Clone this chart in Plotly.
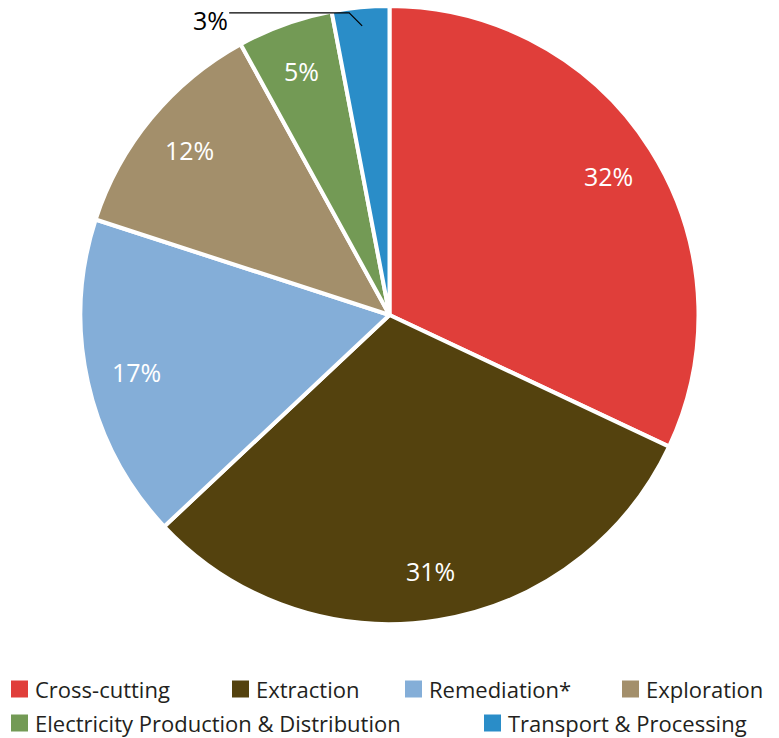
import math
import plotly.graph_objects as go

categories = ["Cross-cutting", "Extraction", "Remediation*", "Exploration",
              "Electricity Production & Distribution", "Transport & Processing"]
shares = [32, 31, 17, 12, 5, 3]
colors = ["#E03E3A", "#54420E", "#84AED8", "#A38F6B", "#739A55", "#2A8DC8"]

W, H = 779, 738
M_T, M_B = 6, 114
plot_h = H - M_T - M_B
plot_w = W
radius = min(plot_w, plot_h) / 2
FONT = "Open Sans"
TEXT_DARK = "#231F20"

labels_txt = [f"{v}%" for v in shares]

fig = go.Figure(go.Pie(
    labels=categories,
    values=shares,
    textinfo="none",
    marker=dict(colors=colors, line=dict(color="white", width=4)),
    sort=False,
    direction="clockwise",
    rotation=0,
    automargin=False,
    showlegend=False,
))


def to_paper(dx_px, dy_px):
    """Offset from the pie centre (pixels, y up) -> paper coordinates."""
    return 0.5 + dx_px / plot_w, 0.5 + dy_px / plot_h


def px_to_paper_y(py):
    return (H - M_B - py) / plot_h


# percentage labels placed along each slice's mid-angle
total = sum(shares)
cum = 0
mids = []
for v in shares:
    mids.append(2 * math.pi * (cum + v / 2) / total)
    cum += v

for txt, th in zip(labels_txt[:-1], mids[:-1]):
    x, y = to_paper(radius * 0.84 * math.sin(th), radius * 0.84 * math.cos(th))
    fig.add_annotation(x=x, y=y, xref="paper", yref="paper", text=txt,
                       showarrow=False, xanchor="center", yanchor="middle",
                       font=dict(size=25, color="white", family=FONT))

# call-out for the smallest slice
th = mids[-1]
ex, ey = radius * 0.94 * math.sin(th), radius * 0.94 * math.cos(th)
end_x, end_y = to_paper(ex, ey)
elb_x, elb_y = to_paper(ex - 13, ey + 13)
left_x = elb_x - 120 / plot_w

fig.add_shape(type="path",
              path=f"M {left_x} {elb_y} L {elb_x} {elb_y} L {end_x} {end_y}",
              xref="paper", yref="paper", line=dict(color="black", width=1.2))
fig.add_annotation(x=left_x, y=elb_y, xref="paper", yref="paper",
                   text=labels_txt[-1], showarrow=False,
                   xanchor="right", yanchor="top", xshift=1, yshift=12,
                   font=dict(size=25, color="black", family=FONT))

# legend: two rows of coloured squares with category names
legend_rows = [[0, 1, 2, 3], [4, 5]]
legend_x = [[11, 232, 405, 622], [11, 484]]
legend_y = [689, 723]
SQ = 17
for row, xs, py in zip(legend_rows, legend_x, legend_y):
    for i, px in zip(row, xs):
        fig.add_shape(type="rect", xref="paper", yref="paper",
                      x0=px / W, x1=(px + SQ) / W,
                      y0=px_to_paper_y(py + SQ / 2), y1=px_to_paper_y(py - SQ / 2),
                      fillcolor=colors[i], line=dict(width=0))
        fig.add_annotation(
            x=(px + 25) / W, y=px_to_paper_y(py), xref="paper", yref="paper",
            text=categories[i], showarrow=False, xanchor="left", yanchor="middle",
            xshift=-2, borderpad=0,
            font=dict(size=22, color=TEXT_DARK, family=FONT))

fig.update_layout(
    width=W, height=H,
    margin=dict(l=0, r=0, t=M_T, b=M_B),
    paper_bgcolor="white", plot_bgcolor="white",
    font=dict(family=FONT, color=TEXT_DARK),
    showlegend=False,
)

fig.write_html("out.html")
